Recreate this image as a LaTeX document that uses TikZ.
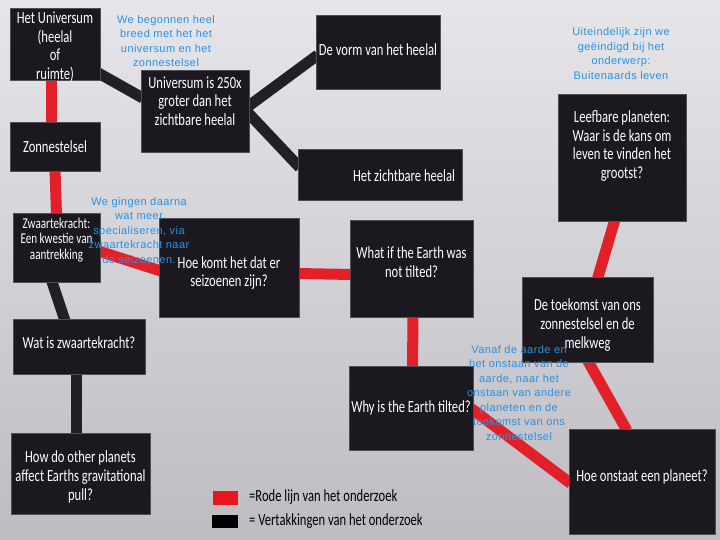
\documentclass[tikz,border=0pt]{standalone}
\usepackage{fontspec}
\setmainfont{Liberation Sans}
\newfontfamily\boxfont[FakeStretch=0.74]{Carlito}
\newfontfamily\bluefont[LetterSpace=4]{Liberation Sans}
\usetikzlibrary{calc}
\definecolor{bgtop}{RGB}{190,188,194}
\definecolor{bgbot}{RGB}{230,230,234}
\definecolor{boxfill}{RGB}{27,25,31}
\definecolor{boxedge}{RGB}{80,78,84}
\definecolor{linered}{RGB}{226,32,42}
\definecolor{legred}{RGB}{234,22,30}
\definecolor{lineblack}{RGB}{34,32,37}
\definecolor{bluetext}{RGB}{42,144,224}
\pgfdeclarelayer{back}
\pgfdeclarelayer{lines}
\pgfsetlayers{back,lines,main}
\tikzset{
  box/.style={fill=boxfill, draw=boxedge, line width=0.6pt, inner sep=0pt},
  txt/.style={text=white, font=\boxfont\fontsize{17}{18.6}\selectfont, align=center, inner sep=0pt},
  smalltxt/.style={text=white, font=\boxfont\fontsize{15}{15.6}\selectfont, align=center, inner sep=0pt},
  legtxt/.style={text=black, font=\boxfont\fontsize{17}{18}\selectfont, inner sep=0pt, anchor=west},
  bluenote/.style={text=bluetext, font=\bluefont\fontsize{11}{14.5}\selectfont, align=center, inner sep=0pt},
  redline/.style={draw=linered, line width=11pt},
  blackline/.style={draw=lineblack, line width=11pt},
}
\begin{document}
\begin{tikzpicture}[x=1pt,y=-1pt]
\useasboundingbox (0,0) rectangle (720,540);
\begin{pgfonlayer}{back}
\shade[top color=bgbot,bottom color=bgtop] (0,0) rectangle (720,540);
\end{pgfonlayer}

% boxes
\node[box, minimum width=90, minimum height=72,
  label={[txt,yshift=-3pt]center:{Het Universum\\(heelal\\of\\ruimte)}}] (uni) at (55,44) {};
\node[box, minimum width=108, minimum height=82,
  label={[txt,yshift=10pt]center:{Universum is 250x\\groter dan het\\zichtbare heelal}}] (u250) at (195,111) {};
\node[box, minimum width=124, minimum height=74,
  label={[txt,yshift=2pt]center:{De vorm van het heelal}}] (vorm) at (378,52) {};
\node[box, minimum width=164, minimum height=51,
  label={[txt,xshift=24pt,yshift=-1.5pt]center:{Het zichtbare heelal}}] (zicht) at (380,174.5) {};
\node[box, minimum width=128, minimum height=127,
  label={[txt,yshift=11.5pt]center:{Leefbare planeten:\\Waar is de kans om\\leven te vinden het\\grootst?}}] (leef) at (622,157.5) {};
\node[box, minimum width=90, minimum height=49,
  label={[txt]center:{Zonnestelsel}}] (zon) at (55,146.5) {};
\node[box, minimum width=87, minimum height=69,
  label={[smalltxt,yshift=7.5pt]center:{Zwaartekracht:\\Een kwestie van\\aantrekking}}] (zw) at (56.5,247.5) {};
\node[box, minimum width=140, minimum height=99,
  label={[txt,yshift=-5.5pt]center:{Hoe komt het dat er\\seizoenen zijn?}}] (seiz) at (229,267.5) {};
\node[box, minimum width=123, minimum height=97,
  label={[txt,yshift=6.5pt]center:{What if the Earth was\\not tilted?}}] (wif) at (411.5,268.5) {};
\node[box, minimum width=131, minimum height=85,
  label={[txt,yshift=-5.5pt]center:{De toekomst van ons\\zonnestelsel en de\\melkweg}}] (toek) at (587.5,319.5) {};
\node[box, minimum width=132, minimum height=55,
  label={[txt,yshift=3.5pt]center:{Wat is zwaartekracht?}}] (wat) at (79,346.5) {};
\node[box, minimum width=139, minimum height=81,
  label={[txt,yshift=-3.5pt]center:{How do other planets\\affect Earths gravitational\\pull?}}] (how) at (80.5,473.5) {};
\node[box, minimum width=124, minimum height=84,
  label={[txt]center:{Why is the Earth tilted?}}] (why) at (411,408) {};
\node[box, minimum width=146, minimum height=105,
  label={[txt,yshift=4.5pt]center:{Hoe onstaat een planeet?}}] (planet) at (642,481.5) {};

% connectors
\begin{pgfonlayer}{lines}
\draw[redline] ($(uni.south)+(-4,-2)$) -- ($(zon.north)+(-4,2)$);
\draw[redline] ($(zon.south)+(0,-2)$) -- ($(zw.north)+(0,2)$);
\draw[redline] ($(zw.east)+(-2,3.5)$) -- ($(seiz.west)+(2,3.5)$);
\draw[redline] ($(seiz.east)+(-2,6)$) -- ($(wif.west)+(2,6)$);
\draw[redline] ($(wif.south)+(1.5,-2)$) -- ($(why.north)+(1.5,2)$);
\draw[redline] ($(why.east)+(-2,0.5)$) -- ($(planet.west)+(2,2)$);
\draw[redline] ($(planet.north)+(-15,2)$) -- ($(toek.south)+(0,-2)$);
\draw[redline] ($(toek.north)+(10,2)$) -- ($(leef.south)+(-7,-2)$);
\draw[blackline] ($(uni.east)+(-2,29)$) -- ($(u250.west)+(2,-13)$);
\draw[blackline] ($(u250.east)+(-2,-4)$) -- ($(vorm.west)+(2,3)$);
\draw[blackline] ($(u250.east)+(-2,1)$) -- ($(zicht.west)+(2,-7)$);
\draw[blackline] ($(zw.south)+(-5,-2)$) -- ($(wat.north)+(-14,2)$);
\draw[blackline] ($(wat.south)+(-3,-2)$) -- ($(how.north)+(-4.5,2)$);
\end{pgfonlayer}

% legend
\node[fill=legred, minimum width=25, minimum height=14, inner sep=0pt] (legr) at (225.5,498) {};
\node[fill=black, minimum width=26, minimum height=13, inner sep=0pt] (legb) at (225,521.5) {};
\node[legtxt] (legrt) at (249,497) {=Rode lijn van het onderzoek};
\node[legtxt] (legbt) at (249,521) {= Vertakkingen van het onderzoek};

% blue notes
\node[bluenote] (n1) at (166,41) {We begonnen heel\\breed met het het\\universum en het\\zonnestelsel};
\node[bluenote] (n2) at (621,53.5) {Uiteindelijk zijn we\\geëindigd bij het\\onderwerp:\\Buitenaards leven};
\node[bluenote] (n3) at (139,230.5) {We gingen daarna\\wat meer\\specialiseren, via\\zwaartekracht naar\\de seizoenen.};
\node[bluenote] (n4) at (519,393) {Vanaf de aarde en\\het onstaan van de\\aarde, naar het\\onstaan van andere\\planeten en de\\toekomst van ons\\zonnestelsel};
\end{tikzpicture}
\end{document}
